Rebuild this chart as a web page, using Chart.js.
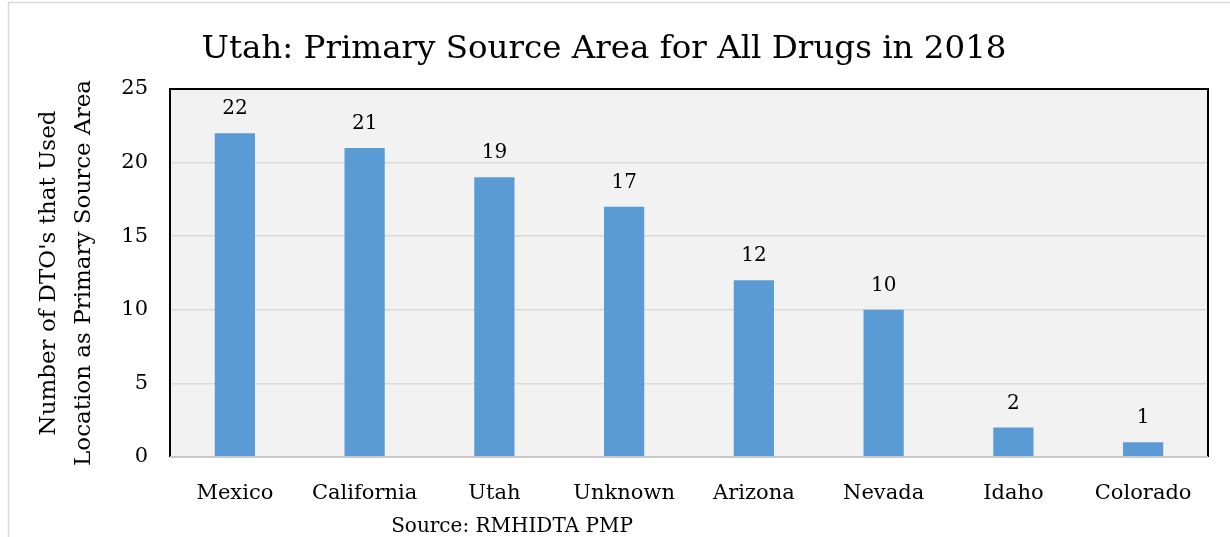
<!DOCTYPE html>
<html><head><meta charset="utf-8">
<script src="https://cdn.jsdelivr.net/npm/chart.js@4/dist/chart.umd.min.js"></script>
<style>html,body{margin:0;padding:0;background:#fff}#wrap{width:1230px;height:537px}</style>
</head><body><div id="wrap"><canvas id="c" width="1230" height="537"></canvas></div>
<script>
const categories = ["Mexico","California","Utah","Unknown","Arizona","Nevada","Idaho","Colorado"];
const values = [22,21,19,17,12,10,2,1];
const yTicks = [0,5,10,15,20,25];
const titleText = "Utah: Primary Source Area for All Drugs in 2018";
const yTitle = ["Number of DTO's that Used","Location as Primary Source Area"];
const sourceText = "Source: RMHIDTA PMP";
const FONT = "'DejaVu Serif', serif";

const decor = {
  id:'decor',
  beforeDraw(chart){
    const {ctx, chartArea:a} = chart;
    ctx.save();
    ctx.fillStyle = '#f2f2f2';
    ctx.fillRect(a.left, a.top, a.right-a.left, a.bottom-a.top);
    ctx.strokeStyle = '#d9d9d9'; ctx.lineWidth = 1.5;
    ctx.strokeRect(8.5, 2.5, 1240, 560);
    ctx.restore();
  },
  afterDatasetsDraw(chart){
    const {ctx, chartArea:a} = chart;
    ctx.save();
    ctx.strokeStyle = '#000'; ctx.lineWidth = 2;
    ctx.beginPath();
    ctx.moveTo(a.left, a.bottom); ctx.lineTo(a.left, a.top); ctx.lineTo(a.right, a.top); ctx.lineTo(a.right, a.bottom);
    ctx.stroke();
    ctx.strokeStyle = '#c8c8c8'; ctx.lineWidth = 2;
    ctx.beginPath(); ctx.moveTo(a.left, a.bottom); ctx.lineTo(a.right, a.bottom); ctx.stroke();
    const meta = chart.getDatasetMeta(0);
    ctx.fillStyle = '#000'; ctx.font = "20px " + FONT; ctx.textAlign = 'center'; ctx.textBaseline = 'alphabetic';
    meta.data.forEach((bar,i)=>{ ctx.fillText(String(values[i]), bar.x, bar.y - 19); });
    ctx.font = "20px " + FONT;
    ctx.fillText(sourceText, 512, 532);
    ctx.restore();
  }
};

new Chart(document.getElementById('c'), {
  type:'bar',
  data:{labels:categories, datasets:[{data:values, backgroundColor:'#5b9bd5', barPercentage:0.31, categoryPercentage:1}]},
  options:{
    responsive:false, animation:false,
    layout:{padding:{left:0,right:22,top:0,bottom:0}},
    plugins:{
      legend:{display:false}, tooltip:{enabled:false},
      title:{display:true, text:titleText, color:'#000', font:{family:FONT, size:32.5, weight:'normal'}, padding:{top:30,bottom:20}}
    },
    scales:{
      x:{grid:{display:false, drawTicks:false}, border:{display:false},
         ticks:{color:'#000', font:{family:FONT,size:21}, padding:24}, afterFit(s){s.height=80;}},
      y:{min:0,max:25, afterBuildTicks(s){s.ticks = yTicks.map(v=>({value:v}));},
         grid:{color:'#d9d9d9', lineWidth:1.5, drawTicks:false}, border:{display:false},
         ticks:{color:'#000', font:{family:FONT,size:21}, padding:22},
         title:{display:true, text:yTitle, color:'#000', font:{family:FONT,size:23, lineHeight:1.52}, padding:{top:32,bottom:0}},
         afterFit(s){s.width=170;}}
    }
  },
  plugins:[decor]
});
</script></body></html>
